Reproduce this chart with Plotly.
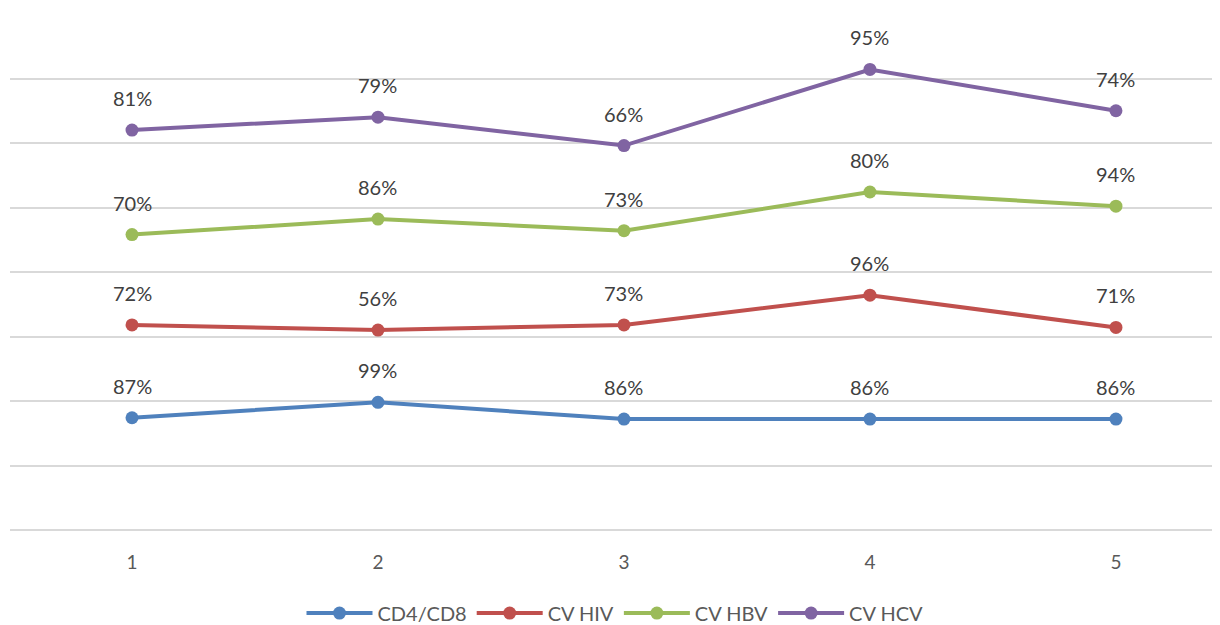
import numpy as np
import plotly.graph_objects as go

categories = [1, 2, 3, 4, 5]
series_names = ["CD4/CD8", "CV HIV", "CV HBV", "CV HCV"]
cd4_cd8 = [0.87, 0.99, 0.86, 0.86, 0.86]
cv_hiv = [0.72, 0.56, 0.73, 0.96, 0.71]
cv_hbv = [0.70, 0.86, 0.73, 0.80, 0.94]
cv_hcv = [0.81, 0.79, 0.66, 0.95, 0.74]
colors = ["#4F81BD", "#C0504D", "#9BBB59", "#8064A2"]

series = [cd4_cd8, cv_hiv, cv_hbv, cv_hcv]
cum = np.cumsum(np.array(series), axis=0)

FONT = "Lato, Open Sans, sans-serif"
fig = go.Figure()
annotations = []
for name, vals, stacked, col in zip(series_names, series, cum, colors):
    fig.add_trace(go.Scatter(
        x=categories, y=stacked, name=name, mode="lines+markers",
        line=dict(color=col, width=4),
        marker=dict(color=col, size=13),
    ))
    for x, v, s in zip(categories, vals, stacked):
        annotations.append(dict(
            x=x, y=s, xref="x", yref="y", text=f"{round(v*100)}%",
            showarrow=False, yshift=32,
            font=dict(family=FONT, size=20, color="#404040"),
        ))

fig.update_layout(
    width=1212, height=625,
    margin=dict(l=2, r=0, t=6, b=103),
    plot_bgcolor="white", paper_bgcolor="white",
    annotations=annotations,
    showlegend=True,
    legend=dict(orientation="h", x=0.5, xanchor="center", y=-0.161, yanchor="middle",
                font=dict(family=FONT, size=20, color="#595959"),
                itemwidth=66, tracegroupgap=0),
    font=dict(family=FONT),
)
fig.update_xaxes(
    range=[0.504, 5.423], tickvals=categories, ticktext=[str(c) for c in categories],
    showgrid=False, zeroline=False, showline=False, ticks="",
    ticklabelstandoff=19,
    tickfont=dict(family=FONT, size=19, color="#595959"),
)
fig.update_yaxes(
    range=[0, 4.0], dtick=0.5, showticklabels=False,
    showgrid=True, gridcolor="#D9D9D9", gridwidth=2,
    zeroline=True, zerolinecolor="#D9D9D9", zerolinewidth=2, showline=False,
)
fig.write_html("out.html")
